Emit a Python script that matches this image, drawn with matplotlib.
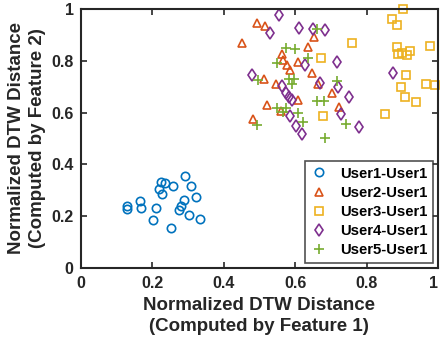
import matplotlib
matplotlib.use("Agg")
import matplotlib.pyplot as plt

u1_x = [0.129, 0.131, 0.166, 0.169, 0.203, 0.212, 0.219, 0.226, 0.229, 0.235,
        0.254, 0.259, 0.274, 0.282, 0.289, 0.291, 0.303, 0.310, 0.324, 0.335]
u1_y = [0.240, 0.227, 0.257, 0.230, 0.184, 0.230, 0.304, 0.333, 0.284, 0.329,
        0.154, 0.316, 0.223, 0.240, 0.264, 0.356, 0.203, 0.316, 0.275, 0.190]

u2_x = [0.451, 0.494, 0.517, 0.514, 0.481, 0.520, 0.546, 0.560, 0.563, 0.567,
        0.576, 0.585, 0.607, 0.607, 0.637, 0.646, 0.654, 0.665, 0.703, 0.723]
u2_y = [0.867, 0.947, 0.934, 0.728, 0.577, 0.629, 0.712, 0.605, 0.828, 0.805,
        0.783, 0.764, 0.796, 0.650, 0.854, 0.751, 0.890, 0.712, 0.674, 0.620]

u3_x = [0.871, 0.884, 0.901, 0.760, 0.672, 0.679, 0.851, 0.885, 0.888, 0.899,
        0.913, 0.922, 0.911, 0.897, 0.906, 0.939, 0.976, 0.967, 0.990]
u3_y = [0.961, 0.940, 0.999, 0.869, 0.809, 0.586, 0.594, 0.854, 0.828, 0.832,
        0.824, 0.837, 0.747, 0.700, 0.661, 0.641, 0.858, 0.712, 0.706]

u4_x = [0.556, 0.530, 0.610, 0.651, 0.683, 0.480, 0.563, 0.574, 0.582, 0.590,
        0.585, 0.602, 0.619, 0.628, 0.669, 0.716, 0.721, 0.727, 0.751, 0.779, 0.874]
u4_y = [0.976, 0.909, 0.925, 0.921, 0.918, 0.747, 0.702, 0.676, 0.661, 0.648,
        0.586, 0.547, 0.519, 0.783, 0.715, 0.796, 0.699, 0.594, 0.661, 0.545, 0.754]

u5_x = [0.660, 0.574, 0.600, 0.549, 0.637, 0.497, 0.584, 0.596, 0.590, 0.718,
        0.662, 0.681, 0.549, 0.574, 0.567, 0.607, 0.621, 0.492, 0.742, 0.684]
u5_y = [0.921, 0.850, 0.845, 0.792, 0.809, 0.725, 0.728, 0.728, 0.712, 0.722,
        0.644, 0.644, 0.616, 0.616, 0.603, 0.600, 0.564, 0.551, 0.555, 0.500]

labels = ["User1-User1", "User2-User1", "User3-User1", "User4-User1", "User5-User1"]
xs = [u1_x, u2_x, u3_x, u4_x, u5_x]
ys = [u1_y, u2_y, u3_y, u4_y, u5_y]
markers = ["o", "^", "s", "d", "+"]
colors = ["#0072BD", "#D95319", "#EDB120", "#7E2F8E", "#77AC30"]
ink = "#262626"

plt.rcParams["font.family"] = ["Liberation Sans", "DejaVu Sans"]
plt.rcParams["font.weight"] = "bold"

fig = plt.figure(figsize=(4.4, 3.47), dpi=100)
ax = fig.add_axes([0.183, 0.228, 0.813, 0.746])

for x, y, m, c, lab in zip(xs, ys, markers, colors, labels):
    ax.plot(x, y, linestyle="none", marker=m, markersize=6 if m != "+" else 7,
            markerfacecolor="none", markeredgecolor=c, markeredgewidth=1.2,
            label=lab, clip_on=False)

ax.set_xlim(0, 1)
ax.set_ylim(0, 1)
ticks = [0, 0.2, 0.4, 0.6, 0.8, 1]
ticklabels = ["0", "0.2", "0.4", "0.6", "0.8", "1"]
ax.set_xticks(ticks)
ax.set_xticklabels(ticklabels)
ax.set_yticks(ticks)
ax.set_yticklabels(ticklabels)
ax.tick_params(direction="in", top=True, right=True, length=4, width=1.2,
               labelsize=11.5, colors=ink)
ax.tick_params(axis="x", pad=6)
ax.tick_params(axis="y", pad=5)
# keep the last x label inside the figure, as in the reference
ax.get_xticklabels()[-1].set_horizontalalignment("right")
for s in ax.spines.values():
    s.set_linewidth(1.5)
    s.set_color(ink)

ax.set_xlabel("Normalized DTW Distance\n(Computed by Feature 1)",
              fontsize=13.5, fontweight="bold", labelpad=4, color=ink,
              linespacing=1.3)
ax.set_ylabel("Normalized DTW Distance\n(Computed by Feature 2)",
              fontsize=13.5, fontweight="bold", labelpad=4, color=ink,
              linespacing=1.3)

leg = ax.legend(loc="lower right", fontsize=10.75, frameon=True, fancybox=False,
                edgecolor=ink, handlelength=1.2, handletextpad=0.8,
                borderpad=0.35, labelspacing=0.35, borderaxespad=0.35)
leg.get_frame().set_linewidth(1.2)
for t in leg.get_texts():
    t.set_fontweight("bold")
    t.set_color("black")

fig.savefig("out.png", dpi=100)
